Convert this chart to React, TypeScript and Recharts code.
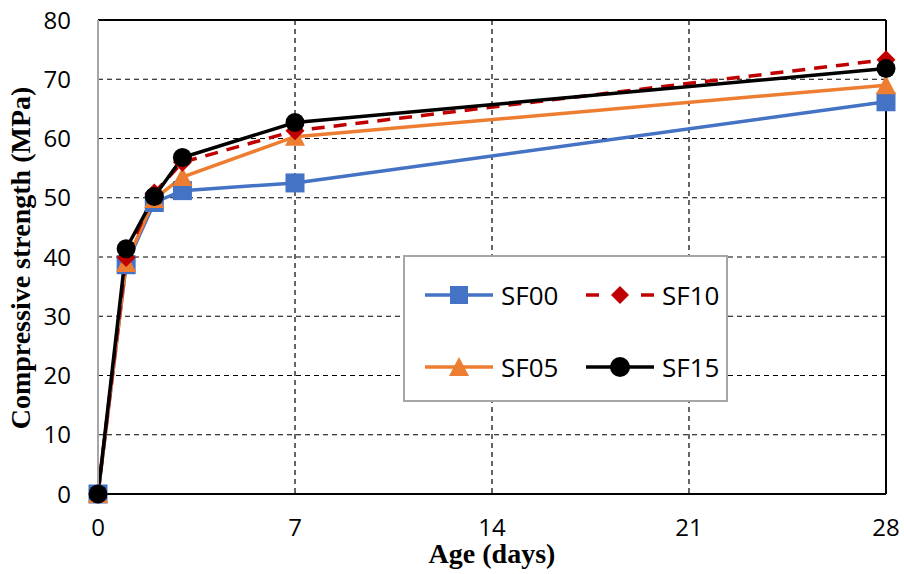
import React from 'react';
import { LineChart, Line, XAxis, YAxis, CartesianGrid, ReferenceLine } from 'recharts';

const ages = [0, 1, 2, 3, 7, 28];
const sf00 = [0, 38.7, 49.2, 51.2, 52.5, 66.2];
const sf05 = [0, 39.0, 49.8, 53.5, 60.3, 69.0];
const sf10 = [0, 39.9, 50.8, 56.0, 61.3, 73.3];
const sf15 = [0, 41.4, 50.2, 56.8, 62.7, 71.8];
const xTicks = [0, 7, 14, 21, 28];
const yTicks = [0, 10, 20, 30, 40, 50, 60, 70, 80];

const data = ages.map((a, i) => ({ age: a, SF00: sf00[i], SF05: sf05[i], SF10: sf10[i], SF15: sf15[i] }));

const C00 = '#4472C4';
const C05 = '#ED7D31';
const C10 = '#C00000';
const C15 = '#000000';

const Square = (p: any) => {
  const { cx, cy } = p;
  if (cx == null || cy == null) return null;
  return <rect x={cx - 9.5} y={cy - 9.5} width={19} height={19} fill={C00} />;
};
const Triangle = (p: any) => {
  const { cx, cy } = p;
  if (cx == null || cy == null) return null;
  return <polygon points={`${cx},${cy - 10} ${cx + 10},${cy + 9} ${cx - 10},${cy + 9}`} fill={C05} />;
};
const Diamond = (p: any) => {
  const { cx, cy } = p;
  if (cx == null || cy == null) return null;
  return <polygon points={`${cx},${cy - 9.5} ${cx + 9.5},${cy} ${cx},${cy + 9.5} ${cx - 9.5},${cy}`} fill={C10} />;
};
const Circle = (p: any) => {
  const { cx, cy } = p;
  if (cx == null || cy == null) return null;
  return <circle cx={cx} cy={cy} r={9.5} fill={C15} />;
};

const legendItem = (name: string, color: string, dashed: boolean, marker: React.ReactNode) => (
  <div style={{ display: 'flex', alignItems: 'center', height: 40 }}>
    <svg width={72} height={30} style={{ display: 'block' }}>
      <line x1={2} y1={15} x2={70} y2={15} stroke={color} strokeWidth={3.5} strokeDasharray={dashed ? '13 42 13' : undefined} />
      {marker}
    </svg>
    <span style={{ marginLeft: 6, fontFamily: '"Open Sans", sans-serif', fontSize: 26, color: '#000', lineHeight: '30px' }}>{name}</span>
  </div>
);

const LegendBox = () => (
  <div style={{ position: 'absolute', left: 403, top: 255, width: 321, height: 143, border: '2px solid #a6a6a6', background: '#fff' }}>
    <div style={{ position: 'absolute', left: 18, top: 18 }}>
      {legendItem('SF00', C00, false, <rect x={27} y={6} width={18} height={18} fill={C00} />)}
    </div>
    <div style={{ position: 'absolute', left: 179, top: 18 }}>
      {legendItem('SF10', C10, true, <polygon points="36,6 45,15 36,24 27,15" fill={C10} />)}
    </div>
    <div style={{ position: 'absolute', left: 18, top: 90 }}>
      {legendItem('SF05', C05, false, <polygon points="36,5 46,24 26,24" fill={C05} />)}
    </div>
    <div style={{ position: 'absolute', left: 179, top: 90 }}>
      {legendItem('SF15', C15, false, <circle cx={36} cy={15} r={10} fill={C15} />)}
    </div>
  </div>
);

const tickStyle = { fontFamily: '"Open Sans", sans-serif', fontSize: 24, fill: '#000' };

export default function App() {
  return (
    <div style={{ position: 'absolute', left: 0, top: 0, width: 904, height: 574, background: '#fff' }}>
      <LineChart width={904} height={574} data={data} margin={{ top: 20, right: 18, bottom: 0, left: 0 }}>
        <CartesianGrid stroke="#000" strokeWidth={1.2} strokeDasharray="5 4" horizontalValues={yTicks} verticalValues={xTicks} />
        <XAxis
          dataKey="age"
          type="number"
          domain={[0, 28]}
          ticks={xTicks}
          interval={0}
          height={80}
          tickSize={0}
          tickMargin={25}
          tick={tickStyle}
          axisLine={{ stroke: '#000', strokeWidth: 2 }}
          tickLine={false}
          label={{
            content: () => (
              <text x={492} y={563} textAnchor="middle" fontFamily='"Liberation Serif", serif' fontWeight="bold" fontSize={28} fill="#000">Age (days)</text>
            ),
          }}
        />
        <YAxis
          type="number"
          domain={[0, 80]}
          ticks={yTicks}
          interval={0}
          width={98}
          tickSize={0}
          tickMargin={27}
          tick={tickStyle}
          axisLine={{ stroke: '#a6a6a6', strokeWidth: 2 }}
          tickLine={false}
          label={{
            content: () => (
              <text x={30} y={258} transform="rotate(-90 30 258)" textAnchor="middle" fontFamily='"Liberation Serif", serif' fontWeight="bold" fontSize={28} fill="#000">Compressive strength (MPa)</text>
            ),
          }}
        />
        <ReferenceLine y={80} stroke="#000" strokeWidth={2} />
        <ReferenceLine x={28} stroke="#000" strokeWidth={2} />
        <Line dataKey="SF00" stroke={C00} strokeWidth={3.5} dot={<Square />} activeDot={false} isAnimationActive={false} />
        <Line dataKey="SF05" stroke={C05} strokeWidth={3.5} dot={<Triangle />} activeDot={false} isAnimationActive={false} />
        <Line dataKey="SF10" stroke={C10} strokeWidth={3.5} strokeDasharray="13 9" dot={<Diamond />} activeDot={false} isAnimationActive={false} />
        <Line dataKey="SF15" stroke={C15} strokeWidth={3.5} dot={<Circle />} activeDot={false} isAnimationActive={false} />
      </LineChart>
      <LegendBox />
    </div>
  );
}
